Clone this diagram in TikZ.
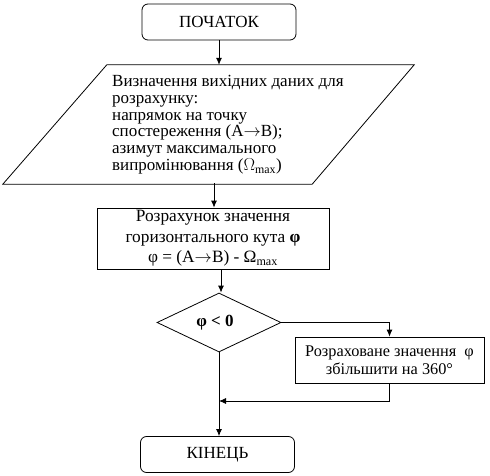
\documentclass[tikz,border=0pt]{standalone}
\usepackage{fontspec}
\setmainfont{Liberation Serif}
\usetikzlibrary{shapes.geometric,arrows.meta,calc}
\begin{document}
\begin{tikzpicture}[x=1pt,y=-1pt,
  every node/.style={font=\rmfamily\fontsize{17}{19}\selectfont},
  term/.style={draw,rounded corners=6pt,minimum width=154,minimum height=36,inner sep=0pt,line width=0.8pt},
  procbox/.style={draw,inner sep=0pt,line width=0.8pt,align=center},
  decbox/.style={draw,diamond,inner sep=0pt,line width=0.8pt,minimum width=124,minimum height=59},
  arr/.style={line width=0.8pt,-{Latex[length=7pt,width=6pt]}},
  ln/.style={line width=0.8pt}]
\useasboundingbox (0,0) rectangle (490,476);
\node[term] (start) at (219,22) {ПОЧАТОК};
\node[minimum width=411,minimum height=119,inner sep=0pt] (par) at (208.5,124.5) {};
\draw[ln] ($(par.north west)+(104,0)$) -- (par.north east) -- ($(par.south east)-(102,0)$) -- (par.south west) -- cycle;
\node[anchor=north west,align=left,inner sep=0pt,font=\rmfamily\fontsize{17}{16.8}\selectfont] (ptext) at (112,75)
 {Визначення вихідних даних для\\розрахунку:\\напрямок на точку\\спостереження (A$\to$B);\\азимут максимального\\випромінювання ($\Omega_{\mathrm{max}}$)};
\node[procbox,minimum width=232,minimum height=61,font=\rmfamily\fontsize{17.3}{20.5}\selectfont] (calc) at (213,238.5)
 {Розрахунок значення\\горизонтального кута \textbf{φ}\\φ = (A$\to$B) - Ω\textsubscript{max}};
\node[decbox] (dec) at (219,322.5) {\hspace*{-8pt}\textbf{φ < 0}};
\node[procbox,minimum width=189,minimum height=46,font=\rmfamily\fontsize{16.3}{17.5}\selectfont] (inc) at (389.5,360)
 {Розраховане значення~ φ\\збільшити на 360°};
\node[term] (end) at (217.5,454.5) {КІНЕЦЬ};
\coordinate (j) at (219,401);
\draw[arr] (start.south) -- (start.south |- par.north);
\draw[arr] (calc.north -| 214,0) ++(0,-24.5) -- (calc.north -| 214,0);
\draw[arr] (calc.south -| 221,0) -- (dec.north -| 221,0);
\draw[arr] (dec.east) -| (inc.north);
\draw[arr] (inc.south) |- (j);
\draw[arr] (dec.south) -- (end.north -| dec.south);
\end{tikzpicture}
\end{document}
